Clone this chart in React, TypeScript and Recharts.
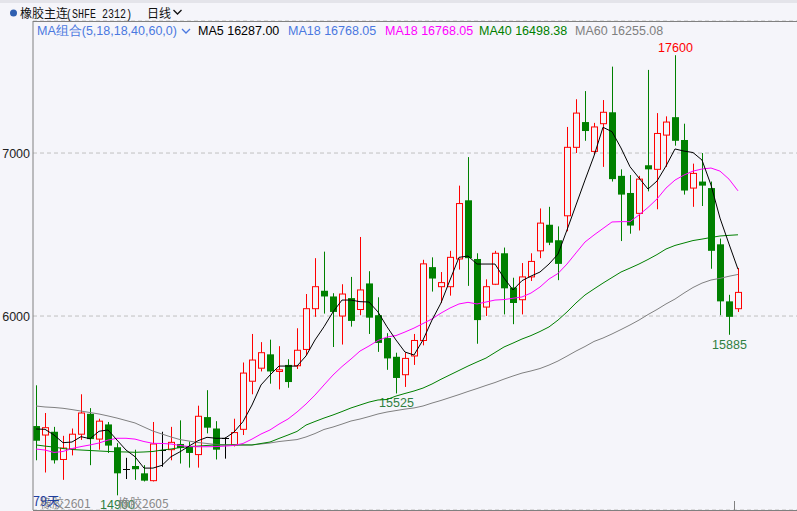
import React from 'react';
import { ComposedChart, Bar, Line, XAxis, YAxis, CartesianGrid } from 'recharts';

// OHLC of the 79 visible trading days (橡胶主连 SHFE 2312, 日线)
const opens = [15325,15270,15290,15120,15185,15275,15400,15245,15335,15195,
  15060,15080,15035,14990,15180,15180,15215,15200,15150,15380,
  15310,15250,15210,15305,15600,15680,15765,15660,15700,15695,
  15795,16045,16155,16120,16000,16110,16040,16200,16005,15865,
  15750,15640,15755,15850,16300,16180,16180,16350,16710,16350,
  16055,16195,16385,16175,16100,16240,16400,16560,16465,16615,
  17035,17190,17010,17180,17250,16860,16755,16630,16925,16900,
  17110,17220,17080,16785,16825,16785,16440,16090,16045];
const highs = [15575,15405,15320,15265,15310,15520,15435,15370,15350,15220,
  15130,15180,15085,15350,15290,15320,15360,15230,15450,15545,
  15355,15255,15370,15715,15890,15840,15855,15815,15735,15925,
  16135,16355,16395,16140,16195,16240,16485,16275,16115,15895,
  15775,15775,15890,16345,16360,16270,16400,16800,16975,16385,
  16225,16400,16420,16235,16325,16385,16660,16670,16550,17160,
  17330,17380,17185,17325,17530,16900,16865,16860,17510,17245,
  17225,17600,17180,16935,17000,16825,16475,16130,16295];
const lows = [15115,15040,15095,14995,15145,15240,15085,15180,15160,14900,
  15000,14995,14985,14985,15075,15115,15095,15070,15070,15280,
  15120,15125,15200,15270,15520,15660,15585,15550,15560,15675,
  15760,15995,16015,15810,15825,15935,16005,15890,15780,15670,
  15525,15565,15700,15820,16150,16080,16125,16285,16185,15830,
  16000,16190,16010,15950,16010,16215,16355,16435,16220,16520,
  17000,17075,16990,16915,16825,16460,16505,16525,16765,16655,
  16915,17045,16745,16670,16675,16290,16005,15885,16025];
const closes = [15235,15315,15115,15190,15275,15405,15245,15355,15205,15035,
  15060,15060,14990,15215,15180,15225,15190,15160,15385,15315,
  15180,15250,15285,15650,15730,15775,15660,15670,15595,15790,
  16045,16180,16120,16025,16135,15970,16160,15990,15835,15740,
  15620,15740,15850,16320,16230,16205,16360,16690,16355,15975,
  16180,16385,16170,16080,16240,16335,16570,16450,16320,17035,
  17245,17135,17160,17250,16840,16745,16555,16840,16900,17120,
  17190,17075,16770,16875,16800,16400,16090,15995,16145];

// moving averages
const ma5 = [15307,15305,15270,15223,15227,15260,15247,15293,15301,15239,
  15178,15137,15067,15067,15084,15137,15167,15202,15235,15256,
  15250,15250,15288,15352,15454,15577,15638,15693,15693,15693,
  15755,15853,15934,16025,16098,16098,16088,16086,16025,15934,
  15853,15779,15761,15853,15975,16080,16221,16360,16368,16319,
  16319,16319,16233,16160,16217,16245,16270,16319,16380,16528,
  16681,16834,16982,17158,17131,17031,16916,16847,16779,16828,
  16920,17025,17012,17003,16957,16804,16601,16442,16287];
const ma18 = [15184,15178,15163,15169,15187,15199,15209,15221,15239,15250,
  15250,15245,15230,15219,15218,15215,15206,15199,15198,15198,
  15199,15202,15206,15218,15245,15276,15301,15337,15368,15411,
  15460,15515,15577,15638,15690,15736,15785,15816,15850,15871,
  15880,15902,15926,15954,15982,16018,16049,16074,16084,16074,
  16086,16098,16101,16109,16117,16141,16178,16227,16261,16319,
  16387,16454,16497,16537,16577,16579,16579,16620,16666,16718,
  16785,16834,16865,16889,16902,16908,16889,16840,16768.05];
const ma40 = [15209,15202,15196,15187,15181,15178,15175,15172,15169,15167,
  15166,15164,15166,15169,15178,15184,15193,15199,15202,15206,
  15209,15209,15209,15209,15209,15218,15227,15249,15270,15292,
  15331,15353,15374,15393,15414,15436,15454,15472,15485,15488,
  15509,15525,15540,15558,15583,15612,15639,15666,15693,15718,
  15742,15776,15810,15834,15859,15880,15905,15933,15975,16025,
  16080,16129,16166,16202,16236,16270,16294,16319,16347,16377,
  16411,16433,16448,16463,16472,16482,16491,16495,16498.38];
const ma60 = [15448,15442,15439,15434,15426,15417,15408,15399,15387,15374,
  15359,15344,15319,15294,15276,15258,15242,15233,15224,15218,
  15212,15209,15209,15209,15209,15215,15221,15230,15236,15242,
  15258,15279,15304,15319,15337,15356,15368,15383,15399,15411,
  15420,15429,15436,15448,15466,15482,15500,15518,15537,15555,
  15574,15592,15613,15632,15650,15663,15678,15699,15724,15754,
  15785,15813,15844,15865,15890,15917,15945,15975,16009,16040,
  16074,16104,16141,16175,16202,16221,16231,16244,16255.08];

const yTicks = [16000, 17000];
const yTickLabels = ['6000', '7000'];
const highMarks = [71];
const lowMarks = [9, 40, 77];

const RED = '#FF0000';
const GREEN = '#008000';
const BG = '#F5F5FA';

const rows = opens.map((o, i) => ({
  idx: i,
  open: o,
  high: highs[i],
  low: lows[i],
  close: closes[i],
  range: [lows[i], highs[i]],
  ma5: ma5[i],
  ma18: ma18[i],
  ma40: ma40[i],
  ma60: ma60[i],
}));

function Candle(props: any) {
  const { x, y, width, height, payload } = props;
  if (x == null || y == null || !payload) return null;
  const cx = Math.round(x + width / 2);
  const { open, close, high, low, idx } = payload;
  const span = high - low || 1;
  const py = (v: number) => y + ((high - v) / span) * height;
  const yH = py(high), yL = py(low), yO = py(open), yC = py(close);
  const lx = cx + 0.5;
  const parts: any[] = [];
  if (close > open) {
    parts.push(<line key="w1" x1={lx} x2={lx} y1={yH} y2={yC} stroke={RED} />);
    parts.push(<line key="w2" x1={lx} x2={lx} y1={yO} y2={yL} stroke={RED} />);
    parts.push(<rect key="b" x={cx - 2.5} y={yC} width={6} height={Math.max(1, yO - yC)} fill={BG} stroke={RED} />);
  } else if (close < open) {
    parts.push(<line key="w" x1={lx} x2={lx} y1={yH} y2={yL} stroke={GREEN} />);
    parts.push(<rect key="b" x={cx - 3} y={yO} width={7} height={Math.max(1, yC - yO)} fill={GREEN} />);
  } else {
    parts.push(<line key="w" x1={lx} x2={lx} y1={yH} y2={yL} stroke="#000" />);
    parts.push(<line key="b" x1={cx - 3} x2={cx + 4} y1={Math.round(yO) + 0.5} y2={Math.round(yO) + 0.5} stroke="#000" />);
  }
  if (highMarks.includes(idx)) {
    parts.push(<text key="hm" x={cx + 0.5} y={yH - 3} textAnchor="middle" fill={RED} fontSize={12.5} fontFamily="Liberation Sans, Arial, sans-serif">{String(high)}</text>);
  }
  if (lowMarks.includes(idx)) {
    parts.push(<text key="lm" x={cx + 0.5} y={yL + 14} textAnchor="middle" fill="#2F7F3F" fontSize={12.5} fontFamily="Liberation Sans, Arial, sans-serif">{String(low)}</text>);
  }
  return <g>{parts}</g>;
}

function YTick(props: any) {
  const { y, payload } = props;
  const k = yTicks.indexOf(payload.value);
  return (
    <text x={30} y={y + 4.5} textAnchor="end" fill="#222" fontSize={12.5} fontFamily="Liberation Sans, Arial, sans-serif">
      {k >= 0 ? yTickLabels[k] : String(payload.value)}
    </text>
  );
}

const legend = [
  { text: 'MA5 ' + ma5[ma5.length - 1].toFixed(2), color: '#000000', x: 198 },
  { text: 'MA18 ' + ma18[ma18.length - 1].toFixed(2), color: '#4A78E0', x: 288 },
  { text: 'MA18 ' + ma18[ma18.length - 1].toFixed(2), color: '#FF00FF', x: 385 },
  { text: 'MA40 ' + ma40[ma40.length - 1].toFixed(2), color: '#008000', x: 479 },
  { text: 'MA60 ' + ma60[ma60.length - 1].toFixed(2), color: '#808080', x: 575 },
];

export default function App() {
  const font = 'Liberation Sans, Arial, sans-serif';
  const cjk = 'Noto Sans CJK SC, sans-serif';
  return (
    <div style={{ position: 'absolute', left: 0, top: 0, width: 797, height: 511, background: BG, overflow: 'hidden' }}>
      <ComposedChart width={797} height={511} data={rows} margin={{ top: 21, right: 0, bottom: 1, left: 0 }}>
        <CartesianGrid vertical={false} stroke="#C0C0C0" strokeDasharray="4 3" />
        <XAxis type="number" dataKey="idx" domain={[-1 / 3, 84.556]} hide allowDataOverflow />
        <YAxis
          width={33}
          domain={[14810, 17810]}
          ticks={yTicks}
          allowDataOverflow
          axisLine={{ stroke: '#808080' }}
          tickLine={false}
          tick={<YTick />}
        />
        <Bar dataKey="range" barSize={7} shape={<Candle />} isAnimationActive={false} />
        <Line dataKey="ma60" stroke="#808080" dot={false} isAnimationActive={false} type="linear" strokeWidth={1} />
        <Line dataKey="ma40" stroke="#008000" dot={false} isAnimationActive={false} type="linear" strokeWidth={1} />
        <Line dataKey="ma18" stroke="#FF00FF" dot={false} isAnimationActive={false} type="linear" strokeWidth={1} />
        <Line dataKey="ma5" stroke="#000000" dot={false} isAnimationActive={false} type="linear" strokeWidth={1} />
      </ComposedChart>
      <svg width={797} height={511} style={{ position: 'absolute', left: 0, top: 0, pointerEvents: 'none' }}>
        <rect x={0} y={0} width={797} height={3} fill="#E4E4EA" />
        <line x1={33} x2={797} y1={21.5} y2={21.5} stroke="#808080" />
        <circle cx={13.5} cy={13} r={3.5} fill="#2F5FB0" />
        <text x={20} y={17.5} fontSize={12} fill="#111" fontFamily={cjk}>橡胶主连</text>
        <text x={66} y={17.5} fontSize={12.5} fill="#111" fontFamily="Liberation Mono, DejaVu Sans Mono, monospace" textLength={66} lengthAdjust="spacingAndGlyphs">(SHFE 2312)</text>
        <text x={147} y={17.5} fontSize={12} fill="#111" fontFamily={cjk}>日线</text>
        <path d="M173.5 10 L177.5 14 L181.5 10" fill="none" stroke="#111" strokeWidth={1.3} />
        <text x={37} y={35} fontSize={12.5} fill="#4A78E0" fontFamily={font}>MA组合(5,18,18,40,60,0)</text>
        <path d="M182 29 L186 33 L190 29" fill="none" stroke="#4A78E0" strokeWidth={1.3} />
        {legend.map((l, i) => (
          <text key={i} x={l.x} y={35} fontSize={12.5} fill={l.color} fontFamily={font}>{l.text}</text>
        ))}
        <line x1={33} x2={797} y1={510.5} y2={510.5} stroke="#808080" />
        <line x1={734.5} x2={734.5} y1={501} y2={510} stroke="#808080" />
        <text x={40} y={508} fontSize={12} fill="#888" fontFamily={cjk}>橡胶2601</text>
        <text x={118} y={508} fontSize={12} fill="#888" fontFamily={cjk}>橡胶2605</text>
        <text x={33} y={506} fontSize={12.5} fill="#1F3FA0" fontFamily={cjk}>79天</text>
      </svg>
    </div>
  );
}
